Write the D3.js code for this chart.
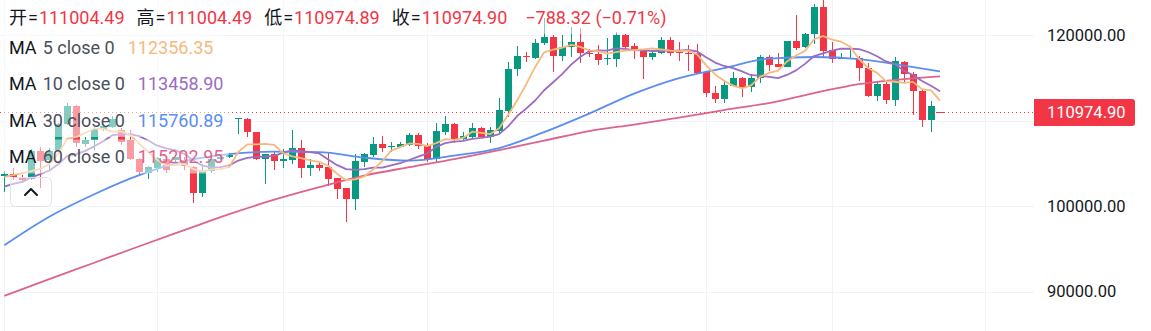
<!DOCTYPE html>
<html>
<head>
<meta charset="utf-8">
<script src="https://cdn.jsdelivr.net/npm/d3@7"></script>
<style>
  html, body { margin: 0; padding: 0; background: #ffffff; overflow: hidden; }
  svg { display: block; font-family: Roboto, "Noto Sans CJK SC", sans-serif; }
</style>
</head>
<body>
<svg id="chart" width="1151" height="331"></svg>
<script>
// Daily BTC candles, 15 May 2025 .. 27 Aug 2025
const firstDay = new Date(2025, 4, 15);
const lastDay = new Date(2025, 7, 27);

const opens = [
  103480, 103750, 103430, 103160, 106440, 105390, 106560, 109610, 111750, 107230,
  107730, 108990, 109290, 108900, 107730, 105470, 103900, 104420, 105470, 105390,
  105390, 104600, 101490, 104130, 105470, 105740, 110240, 110190, 108630, 105510,
  106090, 105310, 105390, 106760, 104490, 104800, 104530, 103240, 102070, 100820,
  105190, 105980, 107260, 106910, 106950, 107150, 108320, 107150, 105470, 108630,
  109610, 107850, 108120, 109140, 108120, 108820, 111170, 116020, 117580, 117380,
  119060, 119840, 117610, 118590, 119180, 117960, 117810, 117220, 117260, 120040,
  118750, 118280, 117490, 117890, 119450, 118010, 117930, 117890, 115740, 113200,
  112500, 114090, 115030, 113980, 114960, 117490, 116640, 116320, 119330, 118590,
  120120, 123350, 118280, 117220, 117220, 117380, 116170, 112900, 114290, 112420,
  116870, 115470, 113510, 110113.63, 111004.49
];
const highs = [
  104100, 104450, 103630, 106680, 106910, 106800, 109720, 112030, 111830, 108120,
  109290, 109570, 110550, 109100, 108900, 105620, 104690, 105780, 105620, 105980,
  105780, 104690, 104920, 105980, 105980, 106210, 110350, 110350, 108710, 106090,
  106360, 106640, 108900, 107730, 105470, 105000, 106360, 103280, 102110, 106060,
  106250, 108120, 108200, 107530, 107460, 108590, 108520, 107420, 109690, 110550,
  109690, 108630, 109690, 109260, 109290, 112650, 116910, 118750, 118080, 119530,
  122000, 120040, 120040, 120940, 120820, 118360, 118860, 119650, 120350, 120150,
  119060, 118360, 118200, 119760, 119840, 119180, 118860, 118940, 115800, 114060,
  114760, 115740, 115080, 115450, 117690, 117690, 117890, 119380, 122380, 120310,
  123670, 124200, 119250, 117960, 118550, 117580, 116790, 114680, 114760, 117490,
  116990, 115740, 113670, 112300, 111004.49
];
const lows = [
  101640, 103050, 102690, 103050, 102110, 104220, 106440, 109490, 106880, 106880,
  106560, 108790, 109140, 107150, 105390, 103630, 103130, 104020, 103830, 105000,
  104220, 100390, 101090, 103900, 105390, 105620, 108440, 108120, 105390, 102580,
  104220, 104490, 104920, 103320, 103550, 104130, 102380, 100820, 98160, 99530,
  104600, 105710, 106290, 106360, 106880, 107070, 106680, 105190, 105000, 108320,
  107350, 107730, 107850, 107930, 107420, 108520, 110460, 115270, 116910, 117220,
  118860, 115740, 117020, 117490, 116790, 117490, 116520, 116520, 116250, 118480,
  117190, 114840, 117110, 117850, 117580, 117020, 115850, 115550, 112740, 112030,
  112030, 114050, 112740, 113390, 114380, 115820, 116280, 116280, 118280, 118480,
  118940, 117310, 116790, 117190, 117190, 114650, 112780, 112340, 111950, 111720,
  114560, 110660, 109290, 108700, 110974.89
];
const closes = [
  103750, 103430, 103050, 106440, 105270, 106440, 109570, 111750, 107350, 107730,
  109020, 109370, 110160, 107530, 105470, 104020, 104530, 105590, 104220, 105710,
  104690, 101490, 104220, 105470, 105780, 105980, 110280, 108630, 105510, 106090,
  105310, 105470, 106760, 104450, 104770, 104490, 103160, 101990, 100820, 105270,
  106090, 107260, 106830, 107030, 107300, 108280, 107070, 105470, 108790, 109610,
  107850, 108200, 109140, 108120, 108900, 111250, 116050, 117580, 117460, 119130,
  119840, 117610, 118670, 119180, 117890, 117850, 117110, 117310, 120040, 118670,
  118200, 117490, 117890, 119450, 117960, 117930, 117850, 115620, 113200, 112500,
  114180, 115030, 113980, 115030, 117490, 116520, 116320, 119330, 118540, 120150,
  123350, 118200, 117220, 117310, 117310, 116120, 112900, 114350, 112480, 116957.25,
  115480, 113450, 110113.63, 111763.22, 110974.90
];
// closes of the nine sessions before 15 May (feed the short averages)
const earlierCloses = [100120, 100700, 101170, 101640, 102110, 102340, 101870, 105270, 103860];

// slow averages, one reading every five sessions (session index -> value)
const slowIdx = [0, 5, 10, 15, 20, 25, 30, 35, 40, 45, 50, 55, 60, 65, 70, 75, 80, 85, 90, 95, 100, 104];
const ma30 = [
  95430, 98770, 101400, 103630, 105270, 106090, 106380, 106330, 105680, 105330, 105920,
  106800, 108670, 110840, 113180, 115000, 116170, 117280, 117460, 117220, 116460, 115760.89
];
const ma60 = [
  89510, 91450, 93380, 95310, 97190, 99060, 100760, 102230, 103570, 104570, 105510,
  106560, 107670, 108790, 109550, 110370, 111250, 112070, 113240, 114290, 114880, 115202.95
];

const priceTicks = [90000, 100000, 110000, 120000];
const ohlcLabels = ["开", "高", "低", "收"];
const maPeriods = [5, 10, 30, 60];

// ---- styles ----
const UP = "#089981", DOWN = "#F23645", TEXT = "#131722", SUB = "#4a4f5b";
const maColors = ["#f7b97d", "#9a6cc2", "#5a8ef2", "#dc648e"];
const W = 1151, H = 331, plotRight = 1034;

const svg = d3.select("#chart");
const fmt = d3.format(".2f");
const minus = s => s.replace("-", "\u2212");

const dates = d3.timeDay.range(firstDay, d3.timeDay.offset(lastDay, 1));
const x = d3.scaleTime().domain([firstDay, lastDay]).range([4.3, 940]);
const y = d3.scaleLinear().domain([90000, 120000]).range([291.6, 35.3]);

// ---- grid ----
const grid = svg.append("g");
const gridDays = d3.timeDay.range(firstDay, new Date(2025, 8, 2))
  .filter(d => d.getDate() === 1 || d.getDate() === 15);
grid.selectAll("line.v").data(gridDays).join("line")
  .attr("x1", d => Math.round(x(d)) + 0.5).attr("x2", d => Math.round(x(d)) + 0.5)
  .attr("y1", 0).attr("y2", H)
  .attr("stroke", "#f0f3fa").attr("stroke-width", 1);
grid.selectAll("line.h").data(priceTicks).join("line")
  .attr("x1", 0).attr("x2", plotRight)
  .attr("y1", d => Math.round(y(d)) + 0.5).attr("y2", d => Math.round(y(d)) + 0.5)
  .attr("stroke", "#f0f3fa").attr("stroke-width", 1);

// ---- candles ----
const bars = dates.map((d, i) => ({ d, o: opens[i], h: highs[i], l: lows[i], c: closes[i] }));
const cg = svg.append("g").attr("shape-rendering", "crispEdges");
const candle = cg.selectAll("g").data(bars).join("g")
  .attr("fill", b => b.c >= b.o ? UP : DOWN);
candle.append("rect")
  .attr("x", b => Math.round(x(b.d)))
  .attr("width", 1)
  .attr("y", b => y(b.h))
  .attr("height", b => Math.max(1, y(b.l) - y(b.h)));
candle.append("rect")
  .attr("x", b => Math.round(x(b.d)) - 3)
  .attr("width", 7)
  .attr("y", b => Math.min(y(b.o), y(b.c)))
  .attr("height", b => Math.max(1, Math.abs(y(b.o) - y(b.c))));

// ---- moving averages ----
const allCloses = earlierCloses.concat(closes);
const rolling = n => closes.map((_, i) => {
  const end = i + earlierCloses.length;
  return d3.mean(allCloses.slice(end - n + 1, end + 1));
});
const ma5 = rolling(5), ma10 = rolling(10);

svg.append("clipPath").attr("id", "plot")
  .append("rect").attr("x", 0).attr("y", 0).attr("width", plotRight).attr("height", H);
const lines = svg.append("g").attr("clip-path", "url(#plot)").attr("fill", "none")
  .attr("stroke-width", 1.8).attr("stroke-linejoin", "round");
const fastLine = d3.line().x((v, i) => x(dates[i])).y(v => y(v));
const slowLine = d3.line().curve(d3.curveMonotoneX)
  .x((v, k) => x(dates[slowIdx[k]])).y(v => y(v));
lines.append("path").attr("d", slowLine(ma60)).attr("stroke", maColors[3]);
lines.append("path").attr("d", slowLine(ma30)).attr("stroke", maColors[2]);
lines.append("path").attr("d", fastLine(ma10)).attr("stroke", maColors[1]);
lines.append("path").attr("d", fastLine(ma5)).attr("stroke", maColors[0]);

// ---- last price line ----
const last = closes.length - 1;
const lastY = y(closes[last]);
svg.append("line")
  .attr("x1", 0).attr("x2", plotRight)
  .attr("y1", Math.round(lastY) + 0.5).attr("y2", Math.round(lastY) + 0.5)
  .attr("stroke", DOWN).attr("stroke-width", 1).attr("stroke-dasharray", "1,3");

// ---- price axis ----
const axis = svg.append("g").attr("transform", `translate(${plotRight},0)`)
  .call(d3.axisRight(y).tickValues(priceTicks).tickSize(0).tickPadding(13).tickFormat(fmt));
axis.select(".domain").remove();
axis.selectAll("text").attr("fill", TEXT).attr("font-size", 16.5)
  .attr("font-family", "Roboto, sans-serif");
axis.selectAll(".tick").filter(d => Math.abs(y(d) - lastY) < 16).remove();

const tag = svg.append("g");
tag.append("path")
  .attr("d", `M${plotRight},${lastY - 13.5} h98 q3,0 3,3 v21 q0,3 -3,3 h-98 z`)
  .attr("fill", DOWN);
tag.append("text").attr("x", plotRight + 13).attr("y", lastY).attr("dy", "0.35em")
  .attr("fill", "#ffffff").attr("font-size", 16.5).text(fmt(closes[last]));

// ---- legend ----
const legend = svg.append("g").attr("font-size", 18);
function flow(row, x0, baseline, parts) {
  let cx = x0;
  parts.forEach(p => {
    cx += p.gap || 0;
    const t = row.append("text").attr("x", cx).attr("y", baseline).attr("fill", p.fill).text(p.t);
    cx += t.node().getComputedTextLength();
  });
  return cx;
}
function legendRow(cy, parts) {
  const row = legend.append("g");
  const bg = row.append("rect").attr("fill", "#ffffff").attr("fill-opacity", 0.5);
  const end = flow(row, 9, cy + 6.5, parts);
  bg.attr("x", 4).attr("y", cy - 17).attr("width", end - 4 + 5).attr("height", 34);
}

const change = closes[last] - closes[last - 1];
const pct = change / closes[last - 1] * 100;
const ohlcVals = [opens[last], highs[last], lows[last], closes[last]];
const headParts = [];
ohlcLabels.forEach((lab, k) => {
  headParts.push({ t: lab, fill: TEXT, gap: k ? 12 : 0 });
  headParts.push({ t: "=", fill: TEXT, gap: 1 });
  headParts.push({ t: fmt(ohlcVals[k]), fill: DOWN, gap: 1 });
});
headParts.push({ t: minus(fmt(change)) + " (" + minus(fmt(pct)) + "%)", fill: DOWN, gap: 18 });
legendRow(17, headParts);

const maLast = [ma5[last], ma10[last], ma30[ma30.length - 1], ma60[ma60.length - 1]];
const rowCenters = [47, 83.5, 120, 156.5];
maPeriods.forEach((p, k) => {
  legendRow(rowCenters[k], [
    { t: "MA", fill: TEXT },
    { t: `${p} close 0`, fill: SUB, gap: 6 },
    { t: fmt(maLast[k]), fill: maColors[k], gap: 13 }
  ]);
});

// collapse button
const btn = svg.append("g");
btn.append("rect").attr("x", 10.5).attr("y", 177.5).attr("width", 41).attr("height", 29).attr("rx", 5)
  .attr("fill", "#ffffff").attr("fill-opacity", 0.5).attr("stroke", "#e0e3eb");
btn.append("path").attr("d", "M25,195 L31,189 L37,195").attr("fill", "none")
  .attr("stroke", TEXT).attr("stroke-width", 2).attr("stroke-linecap", "round").attr("stroke-linejoin", "round");
</script>
</body>
</html>
